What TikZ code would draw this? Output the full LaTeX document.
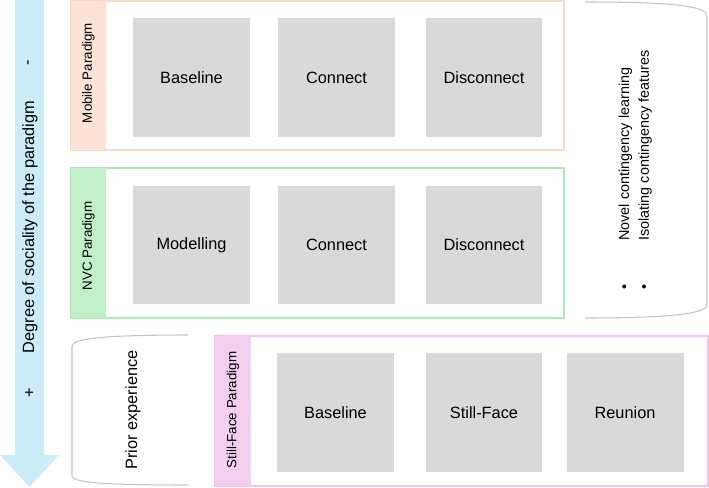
\documentclass[tikz,border=0pt]{standalone}
\usepackage{fontspec}
\setmainfont{Liberation Sans}
\definecolor{arrowblue}{RGB}{204,236,250}
\definecolor{mobilefill}{RGB}{251,227,214}
\definecolor{mobileline}{RGB}{249,216,202}
\definecolor{nvcfill}{RGB}{193,240,200}
\definecolor{nvcline}{RGB}{172,233,184}
\definecolor{sffill}{RGB}{242,207,238}
\definecolor{sfline}{RGB}{244,196,238}
\definecolor{cellgrey}{RGB}{217,217,217}
\definecolor{bracketgrey}{RGB}{196,196,196}

\begin{document}
\begin{tikzpicture}[x=0.02cm, y=-0.02cm,
        cell/.style={fill=cellgrey, minimum width=2.34cm, minimum height=2.38cm,
            inner sep=0pt, font=\fontsize{9.3}{11}\selectfont},
        tag/.style={rotate=90, inner sep=0pt, font=\fontsize{7.6}{9}\selectfont},
        side/.style={rotate=90, inner sep=0pt, font=\fontsize{9.3}{11}\selectfont},
        bracket/.style={draw=bracketgrey, line width=0.6pt}]
        \useasboundingbox (0, 0) rectangle (709, 487);
        % sociality arrow
        \fill[arrowblue] (15, 0) -- (44, 0) -- (44, 455) -- (59, 455) -- (29.5, 487)
            -- (0, 455) -- (15, 455) -- cycle;
        \node[side] (degree) at (30, 227) {Degree of sociality of the paradigm};
        \node[side] (minus) at (30, 63) {-};
        \node[side] (plus) at (30, 393) {+};
        % mobile paradigm
        \draw[draw=mobileline, line width=0.6pt] (71, 1) rectangle (564, 150);
        \fill[mobilefill] (71, 1) rectangle (106, 150);
        \node[tag] (mobile) at (88.5, 73) {Mobile Paradigm};
        \node[cell] (mbase) at (191.5, 77.5) {Baseline};
        \node[cell] (mconn) at (336.5, 77.5) {Connect};
        \node[cell] (mdisc) at (484, 77.5) {Disconnect};
        % nvc paradigm
        \draw[draw=nvcline, line width=0.6pt] (71, 168) rectangle (564, 318);
        \fill[nvcfill] (71, 168) rectangle (106, 318);
        \node[tag] (nvc) at (88.5, 246) {NVC Paradigm};
        \node[cell] (nmodel) at (191.5, 245) {Modelling};
        \node[cell] (nconn) at (336.5, 245) {Connect};
        \node[cell] (ndisc) at (484, 245) {Disconnect};
        % still-face paradigm
        \draw[draw=sfline, line width=0.6pt] (215, 336) rectangle (708, 486);
        \fill[sffill] (215, 336) rectangle (251, 486);
        \node[tag] (stillface) at (233, 410) {Still-Face Paradigm};
        \node[cell] (sbase) at (335.5, 412.5) {Baseline};
        \node[cell] (sstill) at (484, 412.5) {Still-Face};
        \node[cell] (sreun) at (625, 412.5) {Reunion};
        % brackets
        \draw[bracket] (585, 2) .. controls (665, 2) and (707, 5) .. (707, 16)
            -- (707, 305) .. controls (707, 314) and (665, 318) .. (585, 318);
        \node[side, anchor=west, font=\fontsize{8.2}{10}\selectfont] (novel) at (635.5, 290) {%
            \begin{tabular}{@{}l@{\hspace{25pt}}l@{}}
                \textbullet & Novel contingency learning\\[1.2pt]
                \textbullet & Isolating contingency features
            \end{tabular}};
        \draw[bracket] (188, 335) .. controls (110, 335) and (72, 338) .. (72, 346)
            -- (72, 476) .. controls (72, 483) and (110, 485) .. (188, 485);
        \node[side] (prior) at (133, 410) {Prior experience};
    \end{tikzpicture}
\end{document}
